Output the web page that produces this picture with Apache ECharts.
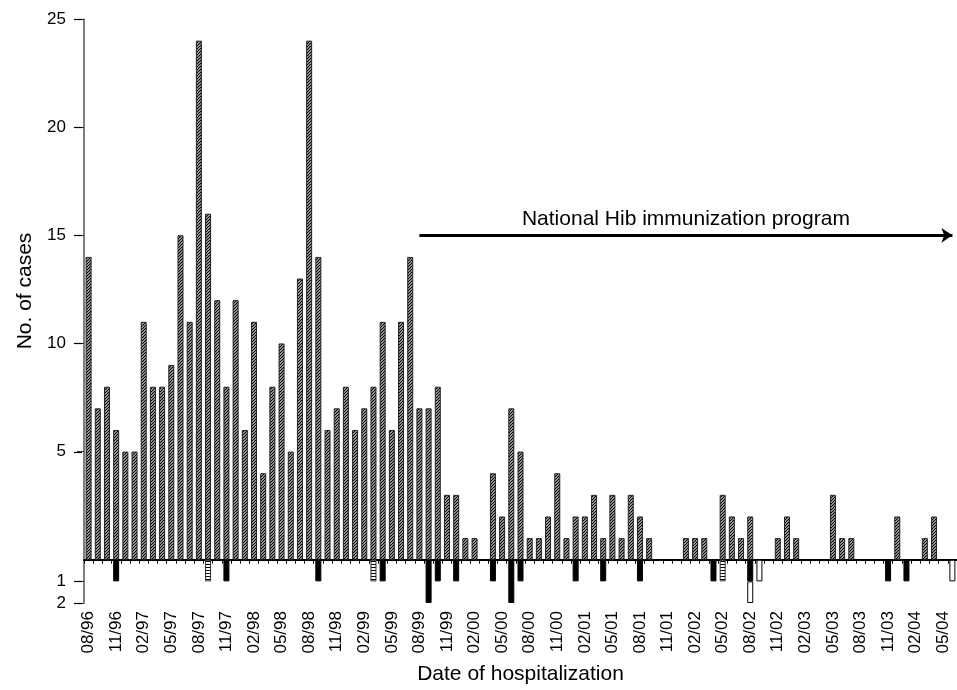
<!DOCTYPE html>
<html>
<head>
<meta charset="utf-8">
<script src="https://cdn.jsdelivr.net/npm/echarts@6/dist/echarts.min.js"></script>
<style>
  html, body { margin: 0; padding: 0; background: #fff; }
  #chart-hib { width: 957px; height: 690px; }
</style>
</head>
<body>
<div id="chart-hib"></div>
<script>
// months 08/96 .. 06/04
var months = [
  '08/96','09/96','10/96','11/96','12/96','01/97','02/97','03/97','04/97','05/97','06/97','07/97',
  '08/97','09/97','10/97','11/97','12/97','01/98','02/98','03/98','04/98','05/98','06/98','07/98',
  '08/98','09/98','10/98','11/98','12/98','01/99','02/99','03/99','04/99','05/99','06/99','07/99',
  '08/99','09/99','10/99','11/99','12/99','01/00','02/00','03/00','04/00','05/00','06/00','07/00',
  '08/00','09/00','10/00','11/00','12/00','01/01','02/01','03/01','04/01','05/01','06/01','07/01',
  '08/01','09/01','10/01','11/01','12/01','01/02','02/02','03/02','04/02','05/02','06/02','07/02',
  '08/02','09/02','10/02','11/02','12/02','01/03','02/03','03/03','04/03','05/03','06/03','07/03',
  '08/03','09/03','10/03','11/03','12/03','01/04','02/04','03/04','04/04','05/04','06/04'
];

// cases above the axis (hatched)
var mainCases = [
  14, 7, 8, 6, 5, 5, 11, 8, 8, 9, 15, 11,
  24, 16, 12, 8, 12, 6, 11, 4, 8, 10, 5, 13,
  24, 14, 6, 7, 8, 6, 7, 8, 11, 6, 11, 14,
  7, 7, 8, 3, 3, 1, 1, 0, 4, 2, 7, 5,
  1, 1, 2, 4, 1, 2, 2, 3, 1, 3, 1, 3,
  2, 1, 0, 0, 0, 1, 1, 1, 0, 3, 2, 1,
  2, 0, 0, 1, 2, 1, 0, 0, 0, 3, 1, 1,
  0, 0, 0, 0, 2, 0, 0, 1, 2, 0, 0
];

// cases below the axis
var blackCases = [
  0, 0, 0, 1, 0, 0, 0, 0, 0, 0, 0, 0,
  0, 0, 0, 1, 0, 0, 0, 0, 0, 0, 0, 0,
  0, 1, 0, 0, 0, 0, 0, 0, 1, 0, 0, 0,
  0, 2, 1, 0, 1, 0, 0, 0, 1, 0, 2, 1,
  0, 0, 0, 0, 0, 1, 0, 0, 1, 0, 0, 0,
  1, 0, 0, 0, 0, 0, 0, 0, 1, 0, 0, 0,
  1, 0, 0, 0, 0, 0, 0, 0, 0, 0, 0, 0,
  0, 0, 0, 1, 0, 1, 0, 0, 0, 0, 0
];
var stripedCases = [
  0, 0, 0, 0, 0, 0, 0, 0, 0, 0, 0, 0,
  0, 1, 0, 0, 0, 0, 0, 0, 0, 0, 0, 0,
  0, 0, 0, 0, 0, 0, 0, 1, 0, 0, 0, 0,
  0, 0, 0, 0, 0, 0, 0, 0, 0, 0, 0, 0,
  0, 0, 0, 0, 0, 0, 0, 0, 0, 0, 0, 0,
  0, 0, 0, 0, 0, 0, 0, 0, 0, 1, 0, 0,
  0, 0, 0, 0, 0, 0, 0, 0, 0, 0, 0, 0,
  0, 0, 0, 0, 0, 0, 0, 0, 0, 0, 0
];
var openCases = [
  0, 0, 0, 0, 0, 0, 0, 0, 0, 0, 0, 0,
  0, 0, 0, 0, 0, 0, 0, 0, 0, 0, 0, 0,
  0, 0, 0, 0, 0, 0, 0, 0, 0, 0, 0, 0,
  0, 0, 0, 0, 0, 0, 0, 0, 0, 0, 0, 0,
  0, 0, 0, 0, 0, 0, 0, 0, 0, 0, 0, 0,
  0, 0, 0, 0, 0, 0, 0, 0, 0, 0, 0, 0,
  1, 1, 0, 0, 0, 0, 0, 0, 0, 0, 0, 0,
  0, 0, 0, 0, 0, 0, 0, 0, 0, 0, 1
];

var yTicks = [-2, -1, 5, 10, 15, 20, 25];
var programStart = '08/99';
var programEnd = '06/04';
var programLevel = 15;

var FONT = '"Liberation Sans", Arial, sans-serif';
var GRID_LEFT = 84;
var GRID_TOP = 19;
var GRID_BOTTOM = 86;
var Y_MIN = -2;
var Y_MAX = 25;

function hatchPattern() {
  var c = document.createElement('canvas');
  c.width = 3; c.height = 3;
  var g = c.getContext('2d');
  g.fillStyle = '#fff';
  g.fillRect(0, 0, 3, 3);
  g.strokeStyle = '#000';
  g.lineWidth = 1.25;
  g.beginPath();
  g.moveTo(0, 3); g.lineTo(3, 0);
  g.moveTo(-1, 1); g.lineTo(1, -1);
  g.moveTo(2, 4); g.lineTo(4, 2);
  g.stroke();
  return c;
}

function stripePattern() {
  var c = document.createElement('canvas');
  c.width = 4; c.height = 3;
  var g = c.getContext('2d');
  g.fillStyle = '#fff';
  g.fillRect(0, 0, 4, 3);
  g.fillStyle = '#000';
  g.fillRect(0, 0, 4, 1);
  return c;
}

function up(arr) {
  return arr.map(function (v) { return v ? v : '-'; });
}
function down(arr) {
  return arr.map(function (v) { return v ? -v : '-'; });
}

var dom = document.getElementById('chart-hib');
var myChart = echarts.init(dom);

var option = {
  backgroundColor: '#fff',
  animation: false,
  grid: { left: GRID_LEFT, right: 0, top: GRID_TOP, bottom: GRID_BOTTOM },
  xAxis: [
    {
      type: 'category',
      data: months,
      axisLine: { onZero: true, lineStyle: { color: '#000', width: 2 } },
      axisTick: { show: true, interval: 0, length: 4, lineStyle: { color: '#000', width: 1 } },
      axisLabel: { show: false },
      splitLine: { show: false }
    },
    {
      type: 'category',
      data: months,
      position: 'bottom',
      axisLine: { show: false, onZero: false },
      axisTick: { show: false },
      axisLabel: {
        interval: 2,
        rotate: 90,
        margin: 8,
        fontSize: 17,
        fontFamily: FONT,
        color: '#000'
      },
      name: 'Date of hospitalization',
      nameLocation: 'middle',
      nameGap: 61,
      nameTextStyle: { fontSize: 21, fontFamily: FONT, color: '#000' }
    }
  ],
  yAxis: {
    type: 'value',
    min: Y_MIN,
    max: Y_MAX,
    axisLine: { show: true, lineStyle: { color: '#555', width: 1.5 } },
    axisTick: { show: true, length: 7, customValues: yTicks, lineStyle: { color: '#333', width: 1 } },
    axisLabel: {
      customValues: yTicks,
      margin: 18,
      fontSize: 17,
      fontFamily: FONT,
      color: '#000',
      formatter: function (v) { return Math.abs(v); }
    },
    splitLine: { show: false },
    name: 'No. of cases',
    nameLocation: 'middle',
    nameGap: 46,
    nameTextStyle: { fontSize: 21, fontFamily: FONT, color: '#000', padding: [0, 0, 0, 40] }
  },
  series: [
    {
      name: 'cases',
      type: 'bar',
      stack: 'all',
      barWidth: 6,
      data: up(mainCases),
      itemStyle: {
        color: { image: hatchPattern(), repeat: 'repeat' },
        borderColor: '#222',
        borderWidth: 1
      },
      markLine: {
        silent: true,
        symbol: ['none', 'arrow'],
        symbolSize: 11,
        lineStyle: { color: '#000', width: 3, type: 'solid' },
        label: {
          show: true,
          position: 'middle',
          formatter: 'National Hib immunization program',
          fontSize: 21,
          fontFamily: FONT,
          color: '#000',
          distance: 6
        },
        data: [
          [
            { xAxis: programStart, yAxis: programLevel },
            { xAxis: programEnd, yAxis: programLevel }
          ]
        ]
      }
    },
    {
      name: 'black',
      type: 'bar',
      stack: 'all',
      barWidth: 6,
      data: down(blackCases),
      itemStyle: { color: '#000', borderColor: '#000', borderWidth: 1 }
    },
    {
      name: 'striped',
      type: 'bar',
      stack: 'all',
      barWidth: 6,
      data: down(stripedCases),
      itemStyle: {
        color: { image: stripePattern(), repeat: 'repeat' },
        borderColor: '#333',
        borderWidth: 1
      }
    },
    {
      name: 'open',
      type: 'bar',
      stack: 'all',
      barWidth: 6,
      data: down(openCases),
      itemStyle: { color: '#fff', borderColor: '#000', borderWidth: 1 }
    }
  ]
};

myChart.setOption(option);

// y tick marks drawn on top, placed with the chart's y scale
var plotH = myChart.getHeight() - GRID_TOP - GRID_BOTTOM;
var tickMarks = yTicks.map(function (v) {
  var py = myChart.convertToPixel({ yAxisIndex: 0 }, v);
  if (typeof py !== 'number' || !isFinite(py)) {
    py = GRID_TOP + (Y_MAX - v) / (Y_MAX - Y_MIN) * plotH;
  }
  py = Math.round(py) + 0.5;
  return {
    type: 'line',
    silent: true,
    z: 100,
    shape: { x1: GRID_LEFT - 10, y1: py, x2: GRID_LEFT - 2, y2: py },
    style: { stroke: '#000', lineWidth: 1.2 }
  };
});
myChart.setOption({ graphic: { elements: tickMarks } });
</script>
</body>
</html>
